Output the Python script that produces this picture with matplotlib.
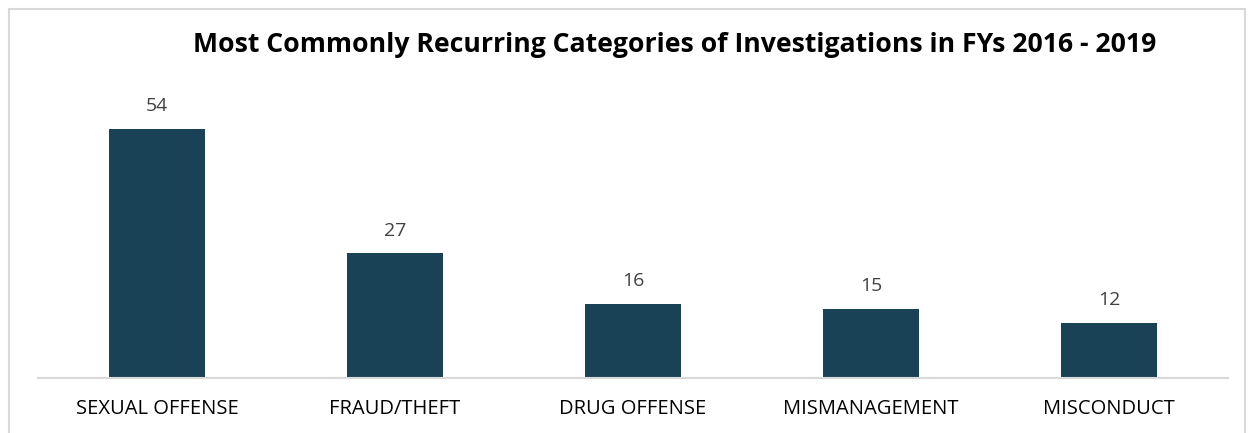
import matplotlib
matplotlib.use("Agg")
import matplotlib.pyplot as plt
from matplotlib.patches import Rectangle

categories = ["SEXUAL OFFENSE", "FRAUD/THEFT", "DRUG OFFENSE", "MISMANAGEMENT", "MISCONDUCT"]
counts = [54, 27, 16, 15, 12]

W, H = 1255, 433
fig = plt.figure(figsize=(W / 100, H / 100), dpi=100)
plt.rcParams["font.family"] = ["Open Sans", "DejaVu Sans"]

# outer chart border (light gray, runs off the bottom)
fig.patches.append(Rectangle((9 / W, -0.05), (1245 - 9) / W, 1.05 - 9 / H,
                             transform=fig.transFigure, fill=False,
                             edgecolor="#d9d9d9", linewidth=1.5))

ax = fig.add_axes([38 / W, (H - 378) / H, (1228 - 38) / W, 277 / H])
x = range(len(categories))
bars = ax.bar(x, counts, width=0.4, color="#1a4256")
for b, v in zip(bars, counts):
    ax.text(b.get_x() + b.get_width() / 2, v + 3.0, str(v), ha="center", va="bottom",
            fontsize=14, color="#404040")

ax.set_xlim(-0.5, len(categories) - 0.5)
ax.set_ylim(0, 60)
ax.set_xticks(list(x))
ax.set_xticklabels(categories, fontsize=14.5, color="#000000")
ax.tick_params(axis="x", length=0, pad=15)
ax.set_yticks([])
for s in ["top", "right", "left"]:
    ax.spines[s].set_visible(False)
ax.spines["bottom"].set_color("#d9d9d9")
ax.spines["bottom"].set_linewidth(1.5)

fig.text(675 / W, 1 - 45 / H, "Most Commonly Recurring Categories of Investigations in FYs 2016 - 2019",
         ha="center", va="center", fontsize=19.2, fontweight="bold", color="#000000")

fig.savefig("out.png", dpi=100)
